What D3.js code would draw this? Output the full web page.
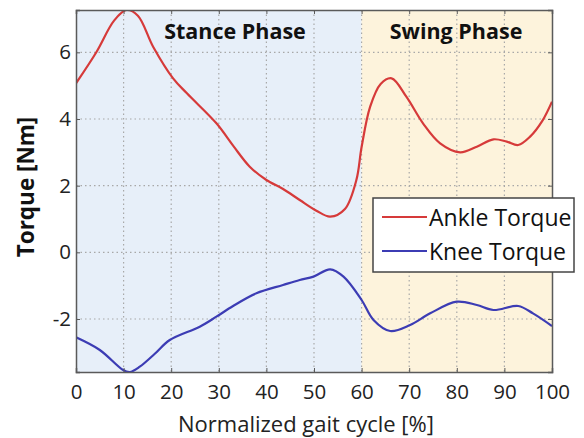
<!DOCTYPE html>
<html><head><meta charset="utf-8">
<script src="https://cdn.jsdelivr.net/npm/d3@7"></script>
<style>body{margin:0;background:#fff}svg{display:block}</style>
</head><body>
<svg id="c" width="584" height="438"></svg>
<script>
const gait = [0, 4.3, 8, 10.6, 13, 16.2, 20.4, 23.3, 29.5, 33, 36.5, 40, 43.5, 47, 50.5, 53.4, 56.5, 58.9, 60, 61.8, 64, 66.3, 69.4, 72.9, 76.5, 80.7, 84.2, 87.7, 90.5, 92.9, 95.4, 98, 100];
const ankleTorque = [5.07, 6.01, 6.95, 7.27, 7.1, 6.17, 5.22, 4.77, 3.87, 3.2, 2.57, 2.17, 1.9, 1.57, 1.25, 1.07, 1.3, 2.17, 3.16, 4.37, 5.05, 5.22, 4.67, 3.87, 3.27, 3.0, 3.17, 3.39, 3.32, 3.22, 3.47, 3.95, 4.52];
const kneeGait = [0, 5, 9.9, 11.3, 13.4, 16.5, 19.7, 26, 29.5, 33, 37.9, 43.5, 47, 49.9, 53.4, 56.2, 60, 62.5, 66, 70.2, 74.4, 80, 84.2, 87.7, 92.9, 96, 100];
const kneeTorque = [-2.55, -2.93, -3.53, -3.59, -3.43, -3.05, -2.63, -2.23, -1.93, -1.61, -1.23, -0.98, -0.83, -0.73, -0.51, -0.73, -1.43, -2.03, -2.36, -2.18, -1.83, -1.48, -1.58, -1.73, -1.61, -1.83, -2.21];
const xTicks = [0, 10, 20, 30, 40, 50, 60, 70, 80, 90, 100];
const yTicks = [-2, 0, 2, 4, 6];
const phases = [{name: "Stance Phase", from: 0, to: 60, fill: "#e7eff9"}, {name: "Swing Phase", from: 60, to: 100, fill: "#fdf3dc"}];
const seriesNames = ["Ankle Torque", "Knee Torque"];

const svg = d3.select("#c");
const L = 76, R = 552, T = 10, B = 372;
const x = d3.scaleLinear().domain([0, 100]).range([L, R]);
const y = d3.scaleLinear().domain([-3.59, 7.27]).range([B, T]);
const font = "'Open Sans', 'Noto Sans', sans-serif";

svg.selectAll("rect.ph").data(phases).join("rect").attr("class", "ph")
  .attr("x", d => x(d.from)).attr("width", d => x(d.to) - x(d.from))
  .attr("y", T).attr("height", B - T).attr("fill", d => d.fill);

// grid
const grid = svg.append("g").attr("stroke", "#a8a8a8").attr("stroke-width", 1.2).attr("stroke-dasharray", "1.5,3");
grid.selectAll("line.vx").data(xTicks.slice(1, -1)).join("line")
  .attr("x1", d => x(d)).attr("x2", d => x(d)).attr("y1", T).attr("y2", B);
grid.selectAll("line.hy").data(yTicks).join("line")
  .attr("y1", d => y(d)).attr("y2", d => y(d)).attr("x1", L).attr("x2", R);

// phase labels
svg.selectAll("text.ph").data(phases).join("text").attr("class", "ph")
  .attr("x", (d, i) => i === 0 ? 235 : 456).attr("y", 39)
  .attr("text-anchor", "middle").attr("font-family", font).attr("font-weight", "bold")
  .attr("font-size", 21.5).attr("fill", "#111").text(d => d.name);

// lines
const lineA = d3.line().x((d, i) => x(gait[i])).y(d => y(d)).curve(d3.curveCatmullRom.alpha(0.5));
const lineK = d3.line().x((d, i) => x(kneeGait[i])).y(d => y(d)).curve(d3.curveCatmullRom.alpha(0.5));
svg.append("defs").append("clipPath").attr("id", "clip").append("rect").attr("x", L).attr("y", T).attr("width", R - L).attr("height", B - T);
svg.append("path").attr("d", lineA(ankleTorque)).attr("fill", "none").attr("stroke", "#d63a3a").attr("stroke-width", 2.2).attr("clip-path", "url(#clip)");
svg.append("path").attr("d", lineK(kneeTorque)).attr("fill", "none").attr("stroke", "#3c3cb4").attr("stroke-width", 2.2).attr("clip-path", "url(#clip)");

// axes
const fmt = d => String(d);
const xa = svg.append("g").attr("transform", `translate(0,${B})`).call(d3.axisBottom(x).tickValues(xTicks).tickFormat(fmt).tickSize(-4).tickPadding(12));
const ya = svg.append("g").attr("transform", `translate(${L},0)`).call(d3.axisLeft(y).tickValues(yTicks).tickFormat(fmt).tickSize(-4).tickPadding(5));
const xt = svg.append("g").attr("transform", `translate(0,${T})`).call(d3.axisTop(x).tickValues(xTicks).tickSize(-4).tickFormat(""));
const yr = svg.append("g").attr("transform", `translate(${R},0)`).call(d3.axisRight(y).tickValues(yTicks).tickSize(-4).tickFormat(""));
[xa, ya, xt, yr].forEach(g => {
  g.selectAll("path").attr("stroke", "#5a5a5a").attr("stroke-width", 1.5);
  g.selectAll("line").attr("stroke", "#5a5a5a");
  g.selectAll("text").attr("font-family", font).attr("font-size", 20.5).attr("fill", "#222");
});

// axis titles
svg.append("text").attr("x", 306).attr("y", 432).attr("text-anchor", "middle")
  .attr("font-family", font).attr("font-size", 22).attr("fill", "#222").text("Normalized gait cycle [%]");
svg.append("text").attr("transform", "translate(34,187) rotate(-90)").attr("text-anchor", "middle")
  .attr("font-family", font).attr("font-weight", "bold").attr("font-size", 22.5).attr("fill", "#111").text("Torque [Nm]");

// legend
const lg = svg.append("g");
lg.append("rect").attr("x", 373).attr("y", 198).attr("width", 201).attr("height", 74)
  .attr("fill", "#fff").attr("stroke", "#444").attr("stroke-width", 1.5);
const lcol = ["#d63a3a", "#3c3cb4"];
seriesNames.forEach((n, i) => {
  const yy = 217 + i * 34;
  lg.append("line").attr("x1", 382).attr("x2", 427).attr("y1", yy).attr("y2", yy).attr("stroke", lcol[i]).attr("stroke-width", 2.2);
  lg.append("text").attr("x", 429).attr("y", yy + 9).attr("font-family", font).attr("font-size", 23).attr("fill", "#111").text(n);
});
</script>
</body></html>
